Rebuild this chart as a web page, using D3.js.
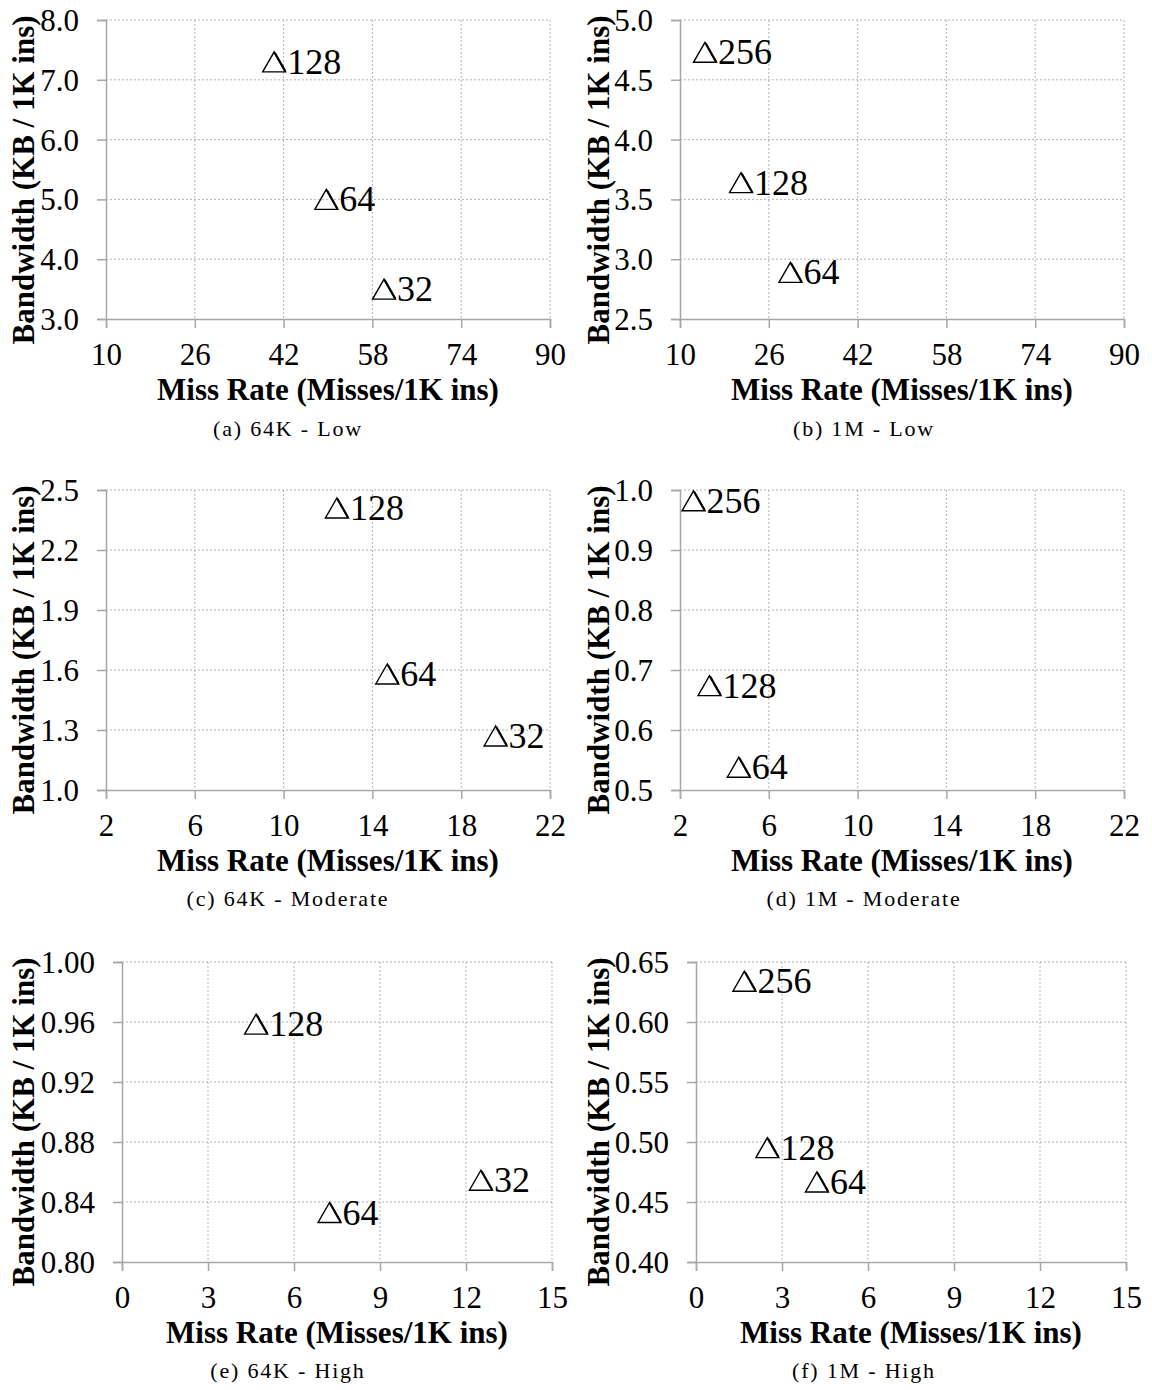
<!DOCTYPE html>
<html>
<head>
<meta charset="utf-8">
<script src="https://cdn.jsdelivr.net/npm/d3@7"></script>
<style>
  html, body { margin: 0; padding: 0; background: #fff; }
  svg { display: block; }
</style>
</head>
<body>
<svg id="chart" width="1152" height="1390"></svg>
<script>
// ---------------- data ----------------
// (a) 64K - Low
const labelsA = ["128", "64", "32"];
const missA   = [40.3, 49.7, 60.1];
const bwA     = [7.30, 5.00, 3.50];
const xTicksA = [10, 26, 42, 58, 74, 90];
const yTicksA = [3.0, 4.0, 5.0, 6.0, 7.0, 8.0];

// (b) 1M - Low
const labelsB = ["256", "128", "64"];
const missB   = [14.5, 21.0, 29.9];
const bwB     = [4.73, 3.64, 2.89];
const xTicksB = [10, 26, 42, 58, 74, 90];
const yTicksB = [2.5, 3.0, 3.5, 4.0, 4.5, 5.0];

// (c) 64K - Moderate
const labelsC = ["128", "64", "32"];
const missC   = [12.4, 14.67, 19.55];
const bwC     = [2.41, 1.58, 1.27];
const xTicksC = [2, 6, 10, 14, 18, 22];
const yTicksC = [1.0, 1.3, 1.6, 1.9, 2.2, 2.5];

// (d) 1M - Moderate
const labelsD = ["256", "128", "64"];
const missD   = [2.61, 3.33, 4.65];
const bwD     = [0.982, 0.674, 0.538];
const xTicksD = [2, 6, 10, 14, 18, 22];
const yTicksD = [0.5, 0.6, 0.7, 0.8, 0.9, 1.0];

// (e) 64K - High
const labelsE = ["128", "64", "32"];
const missE   = [4.68, 7.24, 12.52];
const bwE     = [0.9586, 0.833, 0.8545];
const xTicksE = [0, 3, 6, 9, 12, 15];
const yTicksE = [0.80, 0.84, 0.88, 0.92, 0.96, 1.00];

// (f) 1M - High
const labelsF = ["256", "128", "64"];
const missF   = [1.69, 2.49, 4.22];
const bwF     = [0.634, 0.4953, 0.4667];
const xTicksF = [0, 3, 6, 9, 12, 15];
const yTicksF = [0.40, 0.45, 0.50, 0.55, 0.60, 0.65];

const captions = ["(a) 64K - Low", "(b) 1M - Low", "(c) 64K - Moderate",
                  "(d) 1M - Moderate", "(e) 64K - High", "(f) 1M - High"];
const yFormats = [".1f", ".1f", ".1f", ".1f", ".2f", ".2f"];
const xTitle = "Miss Rate (Misses/1K ins)";
const yTitle = "Bandwidth (KB / 1K ins)";

// ---------------- layout ----------------
const boxes = [
  {l: 106, r: 550, t: 20,  b: 319, titleX: 34,  capX: 288},
  {l: 680, r: 1124, t: 20, b: 319, titleX: 609, capX: 864},
  {l: 106, r: 550, t: 490, b: 790, titleX: 34,  capX: 288},
  {l: 680, r: 1124, t: 490, b: 790, titleX: 609, capX: 864},
  {l: 122, r: 552, t: 962, b: 1262, titleX: 34, capX: 288},
  {l: 696, r: 1126, t: 962, b: 1262, titleX: 609, capX: 864}
];

const series = [
  {labels: labelsA, x: missA, y: bwA, xt: xTicksA, yt: yTicksA},
  {labels: labelsB, x: missB, y: bwB, xt: xTicksB, yt: yTicksB},
  {labels: labelsC, x: missC, y: bwC, xt: xTicksC, yt: yTicksC},
  {labels: labelsD, x: missD, y: bwD, xt: xTicksD, yt: yTicksD},
  {labels: labelsE, x: missE, y: bwE, xt: xTicksE, yt: yTicksE},
  {labels: labelsF, x: missF, y: bwF, xt: xTicksF, yt: yTicksF}
];

const SERIF = "'Liberation Serif', 'Times New Roman', Times, serif";
const svg = d3.select("#chart");
const axisColor = "#a6a6a6";
const gridColor = "#b4b4b4";

series.forEach((s, i) => {
  const bx = boxes[i];
  const x = d3.scaleLinear().domain(d3.extent(s.xt)).range([bx.l, bx.r]);
  const y = d3.scaleLinear().domain(d3.extent(s.yt)).range([bx.b, bx.t]);
  const g = svg.append("g");

  // gridlines (dotted)
  g.append("g").selectAll("line.gx").data(s.xt.slice(1)).join("line")
    .attr("x1", d => x(d)).attr("x2", d => x(d))
    .attr("y1", bx.t).attr("y2", bx.b)
    .attr("stroke", gridColor).attr("stroke-width", 1)
    .attr("stroke-dasharray", "2,2");
  g.append("g").selectAll("line.gy").data(s.yt.slice(1)).join("line")
    .attr("x1", bx.l).attr("x2", bx.r)
    .attr("y1", d => y(d)).attr("y2", d => y(d))
    .attr("stroke", gridColor).attr("stroke-width", 1)
    .attr("stroke-dasharray", "2,2");

  // axes
  const xAxis = d3.axisBottom(x).tickValues(s.xt).tickSize(9).tickPadding(6)
    .tickFormat(d3.format("d"));
  const yAxis = d3.axisLeft(y).tickValues(s.yt).tickSize(9).tickPadding(18)
    .tickFormat(d3.format(yFormats[i]));

  const gx = g.append("g").attr("transform", `translate(0,${bx.b})`).call(xAxis);
  const gy = g.append("g").attr("transform", `translate(${bx.l},0)`).call(yAxis);
  [gx, gy].forEach(ax => {
    ax.select(".domain").attr("stroke", axisColor).attr("stroke-width", 1.5);
    ax.selectAll(".tick line").attr("stroke", axisColor).attr("stroke-width", 1.5);
    ax.selectAll(".tick text").attr("fill", "#000")
      .style("font-family", SERIF).style("font-size", "31px");
  });
  gx.selectAll(".tick text").attr("dy", null).attr("y", 46);
  gy.selectAll(".tick text").attr("dy", "0.34em");

  // axis titles
  g.append("text")
    .attr("x", (bx.l + bx.r) / 2).attr("y", bx.b + 81)
    .attr("text-anchor", "middle")
    .style("font-family", SERIF).style("font-weight", "bold").style("font-size", "31px")
    .text(xTitle);
  g.append("text")
    .attr("transform", `translate(${bx.titleX},${bx.t + 160}) rotate(-90)`)
    .attr("text-anchor", "middle")
    .style("font-family", SERIF).style("font-weight", "bold").style("font-size", "31px")
    .text(yTitle);

  // points: triangle markers + labels
  const pts = s.labels.map((lab, k) => ({lab, mx: s.x[k], bw: s.y[k]}));
  const pg = g.append("g").selectAll("g.pt").data(pts).join("g")
    .attr("transform", d => `translate(${x(d.mx)},${y(d.bw)})`);
  pg.append("path")
    .attr("d", "M0,-10 L-11.5,10 L11.5,10 Z")
    .attr("fill", "none").attr("stroke", "#000").attr("stroke-width", 1.4)
    .attr("stroke-linejoin", "miter");
  pg.append("path")
    .attr("d", "M0.6,-9 L11,9.3")
    .attr("fill", "none").attr("stroke", "#000").attr("stroke-width", 2.2);
  pg.append("text")
    .attr("x", 13).attr("y", 12)
    .style("font-family", SERIF).style("font-size", "36px")
    .text(d => d.lab);

  // caption
  g.append("text")
    .attr("x", bx.capX).attr("y", bx.t + 416)
    .attr("text-anchor", "middle")
    .style("font-family", SERIF).style("font-size", "22px")
    .style("letter-spacing", "1.8px")
    .text(captions[i]);
});
</script>
</body>
</html>
